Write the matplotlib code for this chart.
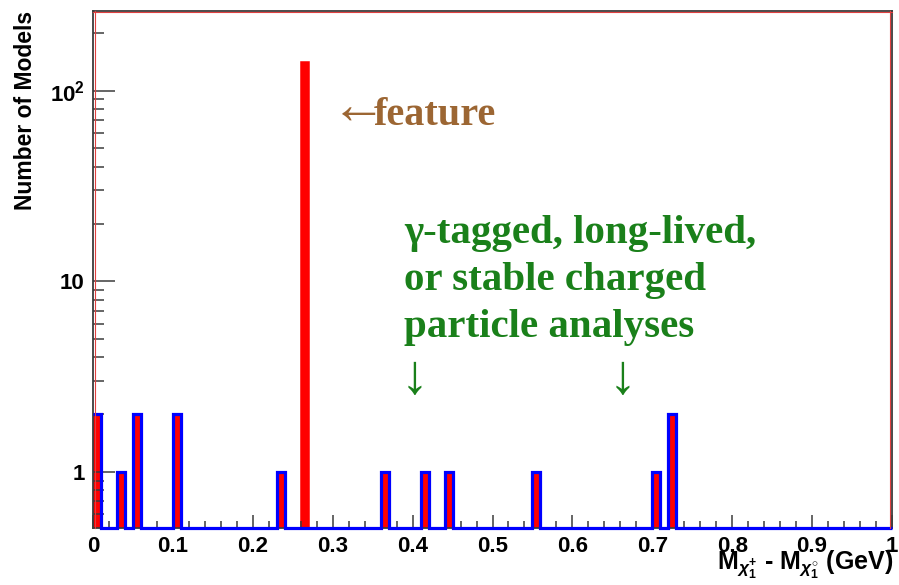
import numpy as np
import matplotlib
matplotlib.use("Agg")
import matplotlib.pyplot as plt
from matplotlib.ticker import LogLocator, NullFormatter, MultipleLocator
import matplotlib.transforms as mtrans
from matplotlib.lines import Line2D

# ---------------- data ----------------
bin_lo = [0.00, 0.03, 0.05, 0.10, 0.23, 0.26, 0.36, 0.41, 0.44, 0.55, 0.70, 0.72]
red_counts = [2, 1, 2, 2, 1, 142, 1, 1, 1, 1, 1, 2]
blue_counts = [2, 1, 2, 2, 1, 0, 1, 1, 1, 1, 1, 2]
bin_width = 0.01
n_bins = 100
x_ticks = [0, 0.1, 0.2, 0.3, 0.4, 0.5, 0.6, 0.7, 0.8, 0.9, 1.0]
x_tick_labels = ["0", "0.1", "0.2", "0.3", "0.4", "0.5", "0.6", "0.7", "0.8", "0.9", "1"]
y_ticks = [1, 10, 100]
y_tick_labels = ["1", "10", r"$\mathbf{10^{2}}$"]
y_label = "Number of Models"
x_label = r"M$_{\chi_{1}^{+}}$ - M$_{\chi_{1}^{\circ}}$ (GeV)"
feature_arrow = "\u2190"
feature_word = "feature"
green_lines = ["\u03b3-tagged, long-lived,", "or stable charged", "particle analyses"]
down_arrow = "\u2193"

# ---------------- style ----------------
plt.rcParams["font.family"] = ["Liberation Sans", "DejaVu Sans"]
plt.rcParams["font.weight"] = "bold"
plt.rcParams["mathtext.fontset"] = "custom"
plt.rcParams["mathtext.rm"] = "Liberation Sans:bold"
plt.rcParams["mathtext.bf"] = "Liberation Sans:bold"
plt.rcParams["mathtext.it"] = "Liberation Sans:italic:bold"

W, H = 899, 585
fig = plt.figure(figsize=(W / 100, H / 100), dpi=100)
left, right, top, bottom = 93, 892, 10.7, 528
ax = fig.add_axes([left / W, 1 - bottom / H, (right - left) / W, (bottom - top) / H])

ymin, ymax = 0.507, 263
ax.set_yscale("log")
ax.set_xlim(0, 1)
ax.set_ylim(ymin, ymax)

# red filled histogram (all models)
ax.bar(bin_lo, red_counts, width=bin_width, align="edge", color="#ff0000",
       edgecolor="#ff0000", linewidth=1.1, zorder=1)

# blue outline histogram
edges = np.round(np.arange(n_bins + 1) * bin_width, 4)
blue_full = np.zeros(n_bins)
idx = np.round(np.array(bin_lo) / bin_width).astype(int)
blue_full[idx] = blue_counts
ax.stairs(np.maximum(blue_full, ymin), edges, baseline=None, color="#0000ff",
          linewidth=2.3, clip_on=False, zorder=3)

# frame
frame_col = "#3c3c3c"
for s in ax.spines.values():
    s.set_color(frame_col)
    s.set_linewidth(1.3)
off = 1.6 / 100
red_kw = dict(color="#e04040", linewidth=0.8, zorder=5, clip_on=False)
ax.add_line(Line2D([0, 0], [0, 1], transform=ax.transAxes +
                   mtrans.ScaledTranslation(off, 0, fig.dpi_scale_trans), **red_kw))
ax.add_line(Line2D([1, 1], [0, 1], transform=ax.transAxes +
                   mtrans.ScaledTranslation(-off, 0, fig.dpi_scale_trans), **red_kw))
ax.add_line(Line2D([0, 1], [1, 1], transform=ax.transAxes +
                   mtrans.ScaledTranslation(0, -off, fig.dpi_scale_trans), **red_kw))

ax.set_axisbelow(False)

# ticks
ax.set_xticks(x_ticks, x_tick_labels)
ax.xaxis.set_minor_locator(MultipleLocator(0.02))
ax.set_yticks(y_ticks, y_tick_labels)
ax.yaxis.set_minor_locator(LogLocator(base=10, subs=np.arange(2, 10)))
ax.yaxis.set_minor_formatter(NullFormatter())
ax.tick_params(axis="both", which="both", direction="in", color=frame_col,
               width=1.1, top=False, right=False, labelsize=16, pad=6)
ax.tick_params(axis="x", which="major", length=9.5)
ax.tick_params(axis="x", which="minor", length=4.7)
ax.tick_params(axis="y", which="major", length=16)
ax.tick_params(axis="y", which="minor", length=8)
for lbl in ax.get_xticklabels() + ax.get_yticklabels():
    lbl.set_fontweight("bold")

# axis titles
ax.set_ylabel(y_label, fontsize=16.5, fontweight="bold", loc="top")
ax.yaxis.set_label_coords(-0.085, 1.0)
ax.yaxis.label.set_va("center")
ax.set_xlabel(x_label, fontsize=18, fontweight="bold", loc="right")
ax.xaxis.set_label_coords(1.002, -0.081)
ax.xaxis.label.set_va("baseline")

# annotations
serif = ["Liberation Serif", "DejaVu Serif"]
fig.text(331 / W, 1 - 124 / H, feature_arrow, color="#9c6633", fontsize=40,
         fontweight="normal", family=serif, va="baseline", ha="left")
fig.text(374 / W, 1 - 125 / H, feature_word, color="#9c6633", fontsize=29,
         fontweight="bold", family=serif, va="baseline", ha="left")
green = "#1a801a"
for line, yb in zip(green_lines, [243, 290, 337]):
    fig.text(404 / W, 1 - yb / H, line, color=green, fontsize=29.5,
             fontweight="bold", family=serif, va="baseline", ha="left")
for xa in [401, 609]:
    fig.text(xa / W, 1 - 393 / H, down_arrow, color=green, fontsize=40,
             fontweight="normal", family=serif, va="baseline", ha="left")

fig.savefig("out.png", dpi=100)
